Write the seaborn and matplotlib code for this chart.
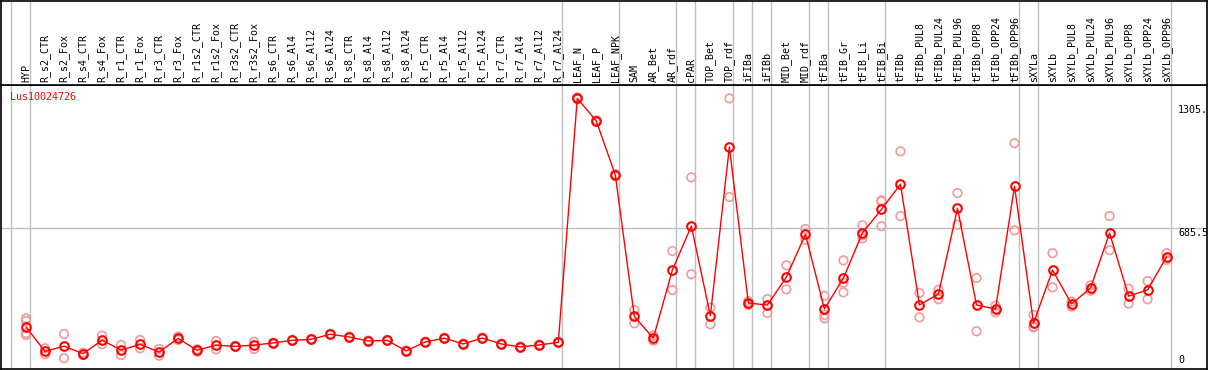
import matplotlib
matplotlib.use("Agg")
import matplotlib.pyplot as plt
import matplotlib.transforms as mtransforms
import numpy as np
import pandas as pd
import seaborn as sns

# ---------------- data ----------------
gene = "Lus10024726"

categories = [
    "HYP",
    "R_s2_CTR", "R_s2_Fox", "R_s4_CTR", "R_s4_Fox", "R_r1_CTR", "R_r1_Fox",
    "R_r3_CTR", "R_r3_Fox", "R_r1s2_CTR", "R_r1s2_Fox", "R_r3s2_CTR", "R_r3s2_Fox",
    "R_s6_CTR", "R_s6_Al4", "R_s6_Al12", "R_s6_Al24",
    "R_s8_CTR", "R_s8_Al4", "R_s8_Al12", "R_s8_Al24",
    "R_r5_CTR", "R_r5_Al4", "R_r5_Al12", "R_r5_Al24",
    "R_r7_CTR", "R_r7_Al4", "R_r7_Al12", "R_r7_Al24",
    "LEAF_N", "LEAF_P", "LEAF_NPK",
    "SAM", "AR_Bet", "AR_rdf", "cPAR", "TOP_Bet", "TOP_rdf",
    "iFIBa", "iFIBb", "MID_Bet", "MID_rdf",
    "tFIBa", "tFIB_Gr", "tFIB_Li", "tFIB_Bi",
    "tFIBb", "tFIBb_PUL8", "tFIBb_PUL24", "tFIBb_PUL96",
    "tFIBb_OPP8", "tFIBb_OPP24", "tFIBb_OPP96",
    "sXYLa", "sXYLb", "sXYLb_PUL8", "sXYLb_PUL24", "sXYLb_PUL96",
    "sXYLb_OPP8", "sXYLb_OPP24", "sXYLb_OPP96",
]

means = [
    189,
    65, 92, 54, 122, 72, 101,
    62, 131, 71, 97, 91, 97,
    108, 121, 126, 152,
    138, 118, 121, 68,
    113, 132, 103, 133,
    103, 88, 98, 111,
    1340, 1226, 954,
    242, 132, 475, 697, 245, 1095,
    309, 299, 440, 655,
    279, 435, 662, 781,
    907, 299, 355, 786,
    299, 279, 897,
    208, 475, 304, 385, 662,
    344, 375, 542,
]

replicates = [
    [232, 219, 157, 148],
    [81, 51], [153, 31], [59, 47], [145, 101], [98, 47], [123, 81],
    [78, 44], [140, 123], [76, 64], [118, 76], [93, 89], [114, 78],
    [110, 106], [123, 119], [128, 124], [154, 150],
    [140, 136], [120, 116], [123, 119], [70, 66],
    [115, 111], [134, 130], [105, 101], [135, 131],
    [105, 101], [90, 86], [100, 96], [113, 109],
    [1345, 1335], [1230, 1222], [958, 950],
    [274, 207], [145, 120], [571, 375], [942, 454], [286, 202], [1340, 843],
    [319, 299], [329, 259], [499, 378], [682, 628],
    [345, 249, 232], [524, 412, 363], [701, 635, 650], [826, 696, 821],
    [1073, 747], [360, 237], [376, 328], [863, 704],
    [435, 167], [296, 262], [1114, 675],
    [249, 190, 186], [560, 388], [316, 291], [398, 371], [747, 575],
    [381, 306], [420, 328], [560, 527],
]

group_ends = [-1, 0, 28, 31, 34, 35, 37, 38, 39, 41, 42, 45, 52, 53, 60]
ref_value = 685.5
max_label = "1305."
ref_label = "685.5"
zero_label = "0"

# ---------------- styling ----------------
sns.set_style("white")
plt.rcParams["font.family"] = ["DejaVu Sans Mono", "DejaVu Sans"]
plt.rcParams["font.size"] = 7.2

RED = "#ff0000"
PINK = "#f09a9a"
GRID = "#c0c0c0"

W, H = 1209, 370
fig = plt.figure(figsize=(W / 100, H / 100), dpi=100)
fig.patch.set_facecolor("white")


def px_rect(x0, y0, x1, y1):
    return [x0 / W, 1 - y1 / H, (x1 - x0) / W, (y1 - y0) / H]


ax = fig.add_axes(px_rect(1, 85, 1207, 369))
hx = fig.add_axes(px_rect(1, 0.5, 1207, 85))

xi = np.arange(len(categories))
x_lo, x_hi = -1.315, 62.125
y_lo, y_hi = -23.2, 1407.2

# group separator lines
for g in group_ends:
    ax.axvline(g + 0.21, color=GRID, lw=1, zorder=0)
    hx.axvline(g + 0.21, color=GRID, lw=1, zorder=0)
ax.axhline(ref_value, color=GRID, lw=1, zorder=0)

# replicate points
rep_x, rep_y = [], []
for i, vals in enumerate(replicates):
    for v in vals:
        rep_x.append(i)
        rep_y.append(v)
reps_df = pd.DataFrame({"x": rep_x, "value": rep_y})
sns.scatterplot(data=reps_df, x="x", y="value", ax=ax, marker="o",
                s=38, facecolor="none", edgecolor=PINK, linewidth=1.2,
                zorder=2, legend=False)

# mean line
mean_df = pd.DataFrame({"x": xi, "value": means})
sns.lineplot(data=mean_df, x="x", y="value", ax=ax, color=RED, lw=1,
             marker="o", markersize=6.2, markerfacecolor="none",
             markeredgecolor=RED, markeredgewidth=1.5, zorder=3,
             legend=False)

ax.set_xlim(x_lo, x_hi)
ax.set_ylim(y_lo, y_hi)
ax.set_xticks([])
ax.set_yticks([])
ax.set_xlabel("")
ax.set_ylabel("")
for sp in ax.spines.values():
    sp.set_color("black")
    sp.set_linewidth(1.2)
    sp.set_visible(True)

# value labels at right (inside plot)
lx = (1178 - 1) / 1206
ax.text(lx, 1305, max_label, transform=mtransforms.blended_transform_factory(ax.transAxes, ax.transData),
        ha="left", va="top", color="black")
ax.text(lx, ref_value, ref_label, transform=mtransforms.blended_transform_factory(ax.transAxes, ax.transData),
        ha="left", va="top", color="black")
ax.text(lx, 0.015, zero_label, transform=ax.transAxes, ha="left", va="bottom", color="black")

# gene name
ax.text(0.0075, 0.957, gene, transform=ax.transAxes, ha="left", va="center", color=RED)

# header with category labels
hx.set_xlim(x_lo, x_hi)
hx.set_ylim(0, 1)
hx.set_xticks([])
hx.set_yticks([])
for sp in hx.spines.values():
    sp.set_color("black")
    sp.set_linewidth(1.2)
    sp.set_visible(True)
htr = mtransforms.blended_transform_factory(hx.transData, hx.transAxes)
for i, c in enumerate(categories):
    hx.text(i, 0.03, c, rotation=90, ha="center", va="bottom", transform=htr, color="black")

fig.savefig("out.png", dpi=100, facecolor="white")
